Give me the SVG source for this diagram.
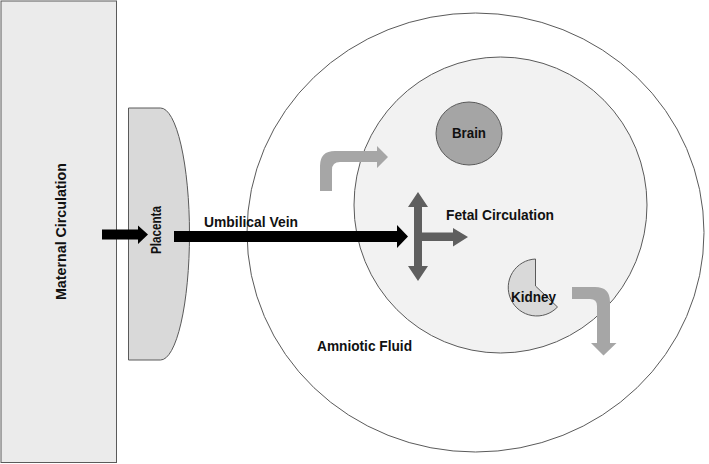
<svg xmlns="http://www.w3.org/2000/svg" width="709" height="464" viewBox="0 0 709 464">
<style>
text{font-family:"Liberation Sans",Arial,sans-serif;font-weight:bold;font-size:14px;fill:#111}
.shape{stroke:#5a5a5a;stroke-width:1}
.black{fill:#000}
.lg{fill:#a6a6a6}
.dg{fill:#5f5f5f}
</style>
<rect width="709" height="464" fill="#ffffff"/>
<g id="maternal">
<rect class="shape" x="1" y="1" width="115.5" height="461.5" fill="#ebebeb"/>
<text transform="translate(65.5,231.5) rotate(-90)" text-anchor="middle" font-size="15" textLength="137" lengthAdjust="spacingAndGlyphs">Maternal Circulation</text>
</g>
<g id="placenta">
<path class="shape" d="M128.5,108 H160.5 A29 126 0 0 1 160.5,360 H128.5 Z" fill="#d9d9d9"/>
<text transform="translate(161,230) rotate(-90)" text-anchor="middle" font-size="14" textLength="48" lengthAdjust="spacingAndGlyphs">Placenta</text>
</g>
<g id="amniotic">
<ellipse class="shape" cx="475.5" cy="232.5" rx="228.5" ry="219.5" fill="#ffffff"/>
<text x="317" y="351" textLength="95" lengthAdjust="spacingAndGlyphs">Amniotic Fluid</text>
</g>
<g id="fetal">
<ellipse class="shape" cx="500.5" cy="205" rx="146.5" ry="148" fill="#f2f2f2"/>
<text x="446" y="220" textLength="108" lengthAdjust="spacingAndGlyphs">Fetal Circulation</text>
</g>
<g id="brain">
<ellipse class="shape" cx="469" cy="133.5" rx="33" ry="31.5" fill="#a5a5a5"/>
<text x="469" y="138" text-anchor="middle" textLength="34" lengthAdjust="spacingAndGlyphs">Brain</text>
</g>
<g id="kidney">
<path class="shape" d="M535.5,259 A28.5,28.5 0 1 0 557.5,307 L535.5,286 Z" fill="#d9d9d9"/>
<text x="511" y="302" textLength="45" lengthAdjust="spacingAndGlyphs">Kidney</text>
</g>
<g id="connectors">
<path class="black" d="M102,229.5 H138 V225.5 L148,234.5 L138,244 V239.5 H102 Z"/>
<path class="black" d="M174,231 H397 V225 L408,236.5 L397,248 V242 H174 Z"/>
<g id="umbilical-vein-label"><text x="204" y="227" textLength="94" lengthAdjust="spacingAndGlyphs">Umbilical Vein</text></g>
<path class="dg" d="M418,192 L428,207 H422 V266 H428 L418,281 L408,266 H414 V207 H408 Z"/>
<path class="dg" d="M422,232.5 H453 V228 L468,237 L453,246.5 V241 H422 Z"/>
<path class="lg" d="M320,191 V166 Q320,151 335,151 H377 V146 L388,157 L377,168 V162 H340 Q332,162 332,170 V191 Z"/>
<path class="lg" d="M572,287 H595 Q610,287 610,302 V343 H616.5 L603.5,355.5 L591,343 H597 V306 Q597,299 590,299 H572 Z"/>
</g>
</svg>
